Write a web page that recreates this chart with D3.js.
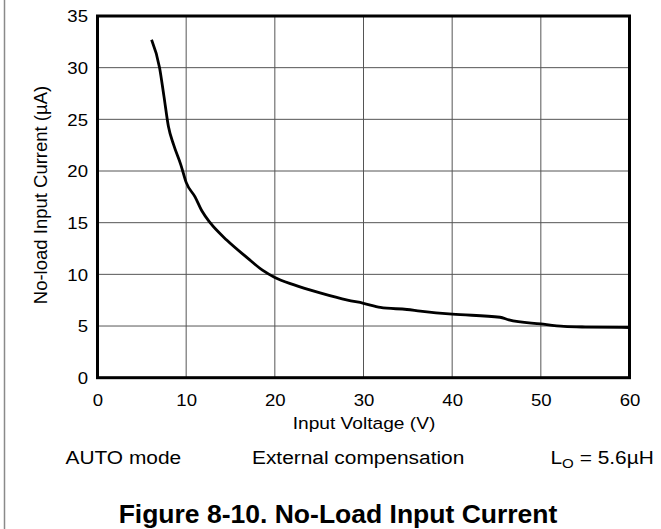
<!DOCTYPE html>
<html>
<head>
<meta charset="utf-8">
<script src="https://cdn.jsdelivr.net/npm/d3@7"></script>
<style>
  body { margin: 0; background: #fff; }
  svg text { font-family: Arial, "Liberation Sans", sans-serif; fill: #000; }
</style>
</head>
<body>
<svg id="chart" width="661" height="529"></svg>
<script>
// values
var voltage = [6.1, 7.0, 7.5, 8.0, 8.6, 9.4, 10.0, 11.0, 11.8, 12.7, 14.6, 16.9, 18.6, 20.0, 22.1, 25.1, 28.2, 30.0, 31.9, 34.9, 36.4, 40.0, 45.4, 46.4, 50.0, 52.6, 55.0, 60.0];
var current = [32.7, 30.0, 27.2, 24.3, 22.5, 20.6, 18.9, 17.5, 16.1, 15.0, 13.3, 11.6, 10.4, 9.7, 9.0, 8.2, 7.5, 7.2, 6.8, 6.6, 6.45, 6.15, 5.85, 5.6, 5.2, 4.96, 4.9, 4.86];
var xTicks = [0, 10, 20, 30, 40, 50, 60];
var yTicks = [0, 5, 10, 15, 20, 25, 30, 35];
var notes = ["AUTO mode", "External compensation"];

var svg = d3.select("#chart");
var sx = 1.16; // the original plot is a bit stretched sideways

// page edge line on the left
svg.append("line")
    .attr("x1", 4.5).attr("x2", 4.5)
    .attr("y1", 0).attr("y2", 529)
    .attr("stroke", "#8a8a8a")
    .attr("stroke-width", 1.5);

var pLeft = 97.5, pRight = 629.5, pTop = 16, pBottom = 377.7;

var x = d3.scaleLinear().domain([0, 60]).range([pLeft, pRight]);
var y = d3.scaleLinear().domain([0, 35]).range([pBottom, pTop]);

var data = voltage.map(function(v, i) { return {v: v, i: current[i]}; });

// grid
svg.append("g").selectAll("line")
    .data(xTicks.slice(1, -1))
    .enter().append("line")
    .attr("x1", function(d) { return x(d); })
    .attr("x2", function(d) { return x(d); })
    .attr("y1", pTop).attr("y2", pBottom)
    .attr("stroke", "#555")
    .attr("stroke-width", 1);

svg.append("g").selectAll("line")
    .data(yTicks.slice(1, -1))
    .enter().append("line")
    .attr("x1", pLeft).attr("x2", pRight)
    .attr("y1", function(d) { return y(d); })
    .attr("y2", function(d) { return y(d); })
    .attr("stroke", "#555")
    .attr("stroke-width", 1);

// axes (labels only, frame drawn below)
var xAxis = svg.append("g")
    .attr("transform", "translate(0," + pBottom + ")")
    .call(d3.axisBottom(x).tickValues(xTicks).tickSize(0).tickPadding(0));
xAxis.select(".domain").remove();
xAxis.selectAll("text")
    .attr("y", 28.5).attr("dy", 0)
    .attr("transform", "scale(" + sx + ",1)")
    .style("font-size", "16px")
    .style("font-family", "Arial, 'Liberation Sans', sans-serif")
    .attr("fill", "#000");

var yAxis = svg.append("g")
    .attr("transform", "translate(" + pLeft + ",0)")
    .call(d3.axisLeft(y).tickValues(yTicks).tickSize(0).tickPadding(0));
yAxis.select(".domain").remove();
yAxis.selectAll("text")
    .attr("x", -9.5 / sx).attr("dy", "0.36em")
    .attr("transform", "scale(" + sx + ",1)")
    .style("font-size", "16px")
    .style("font-family", "Arial, 'Liberation Sans', sans-serif")
    .attr("fill", "#000");

// curve
var line = d3.line()
    .x(function(d) { return x(d.v); })
    .y(function(d) { return y(d.i); })
    .curve(d3.curveMonotoneX);

svg.append("path")
    .datum(data)
    .attr("d", line)
    .attr("fill", "none")
    .attr("stroke", "#000")
    .attr("stroke-width", 2.8)
    .attr("stroke-linejoin", "round");

// frame
svg.append("rect")
    .attr("x", pLeft).attr("y", pTop)
    .attr("width", pRight - pLeft).attr("height", pBottom - pTop)
    .attr("fill", "none")
    .attr("stroke", "#000")
    .attr("stroke-width", 3);

// axis titles
svg.append("text")
    .attr("transform", "translate(364,429) scale(" + sx + ",1)")
    .attr("text-anchor", "middle")
    .style("font-size", "16.5px")
    .text("Input Voltage (V)");

svg.append("text")
    .attr("transform", "translate(46.5,195) rotate(-90)")
    .attr("text-anchor", "middle")
    .style("font-size", "18.5px")
    .text("No-load Input Current (\u00b5A)");

// notes under the plot
svg.append("text")
    .attr("transform", "translate(65.5,463.5) scale(" + sx + ",1)")
    .style("font-size", "18px")
    .text(notes[0]);

svg.append("text")
    .attr("transform", "translate(252,463.5) scale(" + sx + ",1)")
    .style("font-size", "18px")
    .text(notes[1]);

var lo = svg.append("text")
    .attr("transform", "translate(550.5,463.5) scale(" + sx + ",1)")
    .style("font-size", "18px");
lo.append("tspan").text("L");
lo.append("tspan").attr("dy", 4).style("font-size", "13px").text("O");
lo.append("tspan").attr("dy", -4).text(" = 5.6\u00b5H");

// caption
svg.append("text")
    .attr("x", 338).attr("y", 523)
    .attr("text-anchor", "middle")
    .style("font-size", "26.5px")
    .style("font-weight", "bold")
    .text("Figure 8-10. No-Load Input Current");
</script>
</body>
</html>
